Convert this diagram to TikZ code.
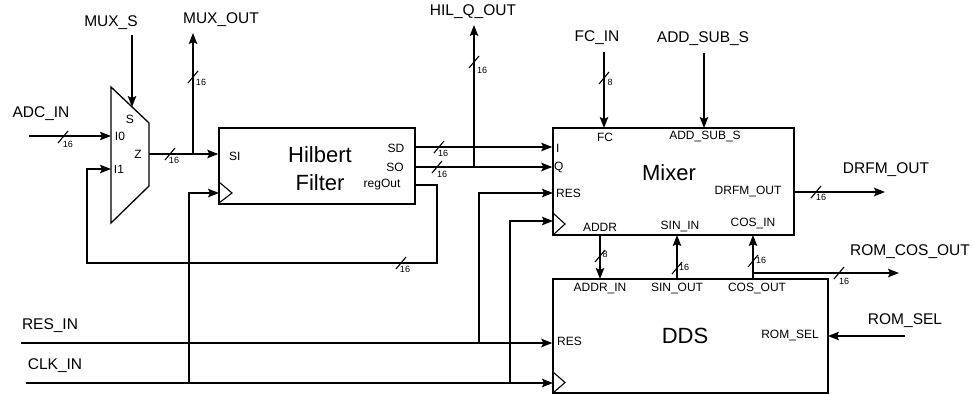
\documentclass[tikz,border=0pt]{standalone}
\usepackage{fontspec}
\setmainfont{Liberation Sans}
\usetikzlibrary{arrows.meta}
\tikzset{
  wire/.style={line width=1.1pt},
  arr/.style={wire,-{Stealth[length=11pt,width=8.5pt,inset=2pt]}},
  blk/.style={draw,line width=1.5pt,inner sep=0pt},
  big/.style={font=\fontsize{22}{28}\selectfont,inner sep=0pt,align=center},
  lbl/.style={font=\fontsize{15.5}{17}\selectfont,inner sep=0pt},
  pin/.style={font=\fontsize{12}{13}\selectfont,inner sep=0pt},
  bw/.style={font=\fontsize{9}{10}\selectfont,inner sep=0pt},
}
\newcommand\busslash[2]{\draw[wire] (#1-5,#2+6) -- (#1+5,#2-6);}
\begin{document}
\begin{tikzpicture}[x=1pt,y=-1pt]
\useasboundingbox (0,0) rectangle (974,395);

% ---------- blocks ----------
\node[blk,minimum width=196pt,minimum height=76pt] (hil) at (317,166) {};
\node[blk,minimum width=241pt,minimum height=107pt] (mix) at (673.5,181.5) {};
\node[blk,minimum width=275pt,minimum height=114pt] (dds) at (690.5,336) {};
\draw[line width=1.3pt] (111,87) -- (149,123) -- (149,186) -- (111,223) -- cycle;

% clock triangles
\draw[line width=1.1pt] (219,182) -- (232,193) -- (219,203);
\draw[line width=1.1pt] (553,213) -- (565,224) -- (553,235);
\draw[line width=1.1pt] (553,372) -- (565,382.5) -- (553,393);

% ---------- block texts ----------
\node[big] (thil) at (320,169) {Hilbert\\Filter};
\node[big] (tmix) at (669,173) {Mixer};
\node[big] (tdds) at (685,336) {DDS};

% mux pins
\node[pin] (pS) at (130,119) {S};
\node[pin] (pI0) at (120,136) {I0};
\node[pin] (pI1) at (119,169) {I1};
\node[pin] (pZ) at (138,154) {Z};
% hilbert pins
\node[pin,anchor=west] (pSI) at (229,156) {SI};
\node[pin] (pSD) at (396,148) {SD};
\node[pin] (pSO) at (395,167) {SO};
\node[pin] (preg) at (382,185) {regOut};
% mixer pins
\node[pin,anchor=west] (pI) at (556,148) {I};
\node[pin,anchor=west] (pQ) at (554,167) {Q};
\node[pin,anchor=west] (pRES) at (556,193) {RES};
\node[pin] (pFC) at (605,137) {FC};
\node[pin] (pADS) at (705,137) {ADD\_SUB\_S};
\node[pin] (pDRFM) at (748,192) {DRFM\_OUT};
\node[pin] (pADDR) at (600,227) {ADDR};
\node[pin] (pSIN) at (680,227) {SIN\_IN};
\node[pin] (pCOS) at (753,224) {COS\_IN};
% dds pins
\node[pin] (pADDRIN) at (600,289) {ADDR\_IN};
\node[pin] (pSINOUT) at (677,289) {SIN\_OUT};
\node[pin] (pCOSOUT) at (757,289) {COS\_OUT};
\node[pin,anchor=west] (pDRES) at (557,341) {RES};
\node[pin] (pROM) at (790,336) {ROM\_SEL};

% ---------- external labels ----------
\node[lbl] (lMUXS) at (111,23) {MUX\_S};
\node[lbl] (lMUXO) at (221,20) {MUX\_OUT};
\node[lbl] (lADC) at (41,114) {ADC\_IN};
\node[lbl] (lHIL) at (473,12) {HIL\_Q\_OUT};
\node[lbl] (lFC) at (597,38) {FC\_IN};
\node[lbl] (lADS) at (703,39) {ADD\_SUB\_S};
\node[lbl] (lDRFM) at (886,170) {DRFM\_OUT};
\node[lbl] (lROMC) at (910,252) {ROM\_COS\_OUT};
\node[lbl] (lROMS) at (905,321) {ROM\_SEL};
\node[lbl] (lRES) at (50,326) {RES\_IN};
\node[lbl] (lCLK) at (55,366) {CLK\_IN};

% ---------- coordinates ----------
\coordinate (mi0) at (111,136);
\coordinate (mi1) at (111,169);
\coordinate (mz) at (149,154);
\coordinate (ms) at (132,107);
\coordinate (adcS) at (29,136);
\coordinate (muxsS) at (132,35);
\coordinate (mo) at (193,154);
\coordinate (moT) at (193,33);
\coordinate (hck) at (219,193);
\coordinate (ck1) at (189,383);
\coordinate (hsd) at (415,147);
\coordinate (hso) at (415,167);
\coordinate (hq) at (474,167);
\coordinate (hqT) at (474,25);
\coordinate (hreg) at (415,185);
\coordinate (fb1) at (437,263);
\coordinate (fb2) at (87,169);
\coordinate (resS) at (21,343);
\coordinate (rb) at (479,343);
\coordinate (mres) at (553,193);
\coordinate (clkS) at (26,383);
\coordinate (dck) at (553,383);
\coordinate (cb) at (510,383);
\coordinate (mck) at (553,221);
\coordinate (fcS) at (604,52);
\coordinate (fcE) at (604,128);
\coordinate (adsS) at (704,53);
\coordinate (adsE) at (704,128);
\coordinate (drS) at (794,192);
\coordinate (drE) at (885,192);
\coordinate (adS) at (600,235);
\coordinate (adE) at (600,279);
\coordinate (sinS) at (677,279);
\coordinate (sinE) at (677,235);
\coordinate (cosS) at (753,279);
\coordinate (cosE) at (753,235);
\coordinate (rcS) at (753,273);
\coordinate (rcE) at (899,273);
\coordinate (rsS) at (905,336);
\coordinate (rsE) at (828,336);

% ---------- connectors ----------
\draw[arr] (adcS) -- (mi0);
\draw[arr] (muxsS) -- (ms);
\draw[arr] (mz) -- (hil.west |- mz);
\draw[arr] (mo) -- (moT);
\draw[arr] (ck1) |- (hck);
\draw[arr] (hsd) -- (mix.west |- hsd);
\draw[arr] (hso) -- (mix.west |- hso);
\draw[arr] (hq) -- (hqT);
\draw[arr] (hreg) -| (fb1) -| (fb2) -- (mi1);
\draw[arr] (resS) -- (dds.west |- resS);
\draw[arr] (rb) |- (mres);
\draw[arr] (clkS) -- (dck);
\draw[arr] (cb) |- (mck);
\draw[arr] (fcS) -- (fcE);
\draw[arr] (adsS) -- (adsE);
\draw[arr] (drS) -- (drE);
\draw[arr] (adS) -- (adE);
\draw[arr] (sinS) -- (sinE);
\draw[arr] (cosS) -- (cosE);
\draw[arr] (rcS) -- (rcE);
\draw[arr] (rsS) -- (rsE);

% ---------- bus width marks ----------
\busslash{63}{137}  \node[bw] (b1) at (68,144) {16};
\busslash{170}{154} \node[bw] (b2) at (174,160) {16};
\busslash{193}{77}  \node[bw] (b3) at (201,82) {16};
\busslash{439}{147} \node[bw] (b4) at (443,153) {16};
\busslash{437}{167} \node[bw] (b5) at (442,174) {16};
\busslash{474}{62}  \node[bw] (b6) at (482,70) {16};
\busslash{401}{263} \node[bw] (b7) at (405,269) {16};
\busslash{604}{78}  \node[bw] (b8) at (610,82) {8};
\busslash{816}{192} \node[bw] (b9) at (821,197) {16};
\busslash{600}{256} \node[bw] (b10) at (605,254) {8};
\busslash{677}{268} \node[bw] (b11) at (684,267) {16};
\busslash{753}{261} \node[bw] (b12) at (761,260) {16};
\busslash{839}{273} \node[bw] (b13) at (844,281) {16};
\end{tikzpicture}
\end{document}
